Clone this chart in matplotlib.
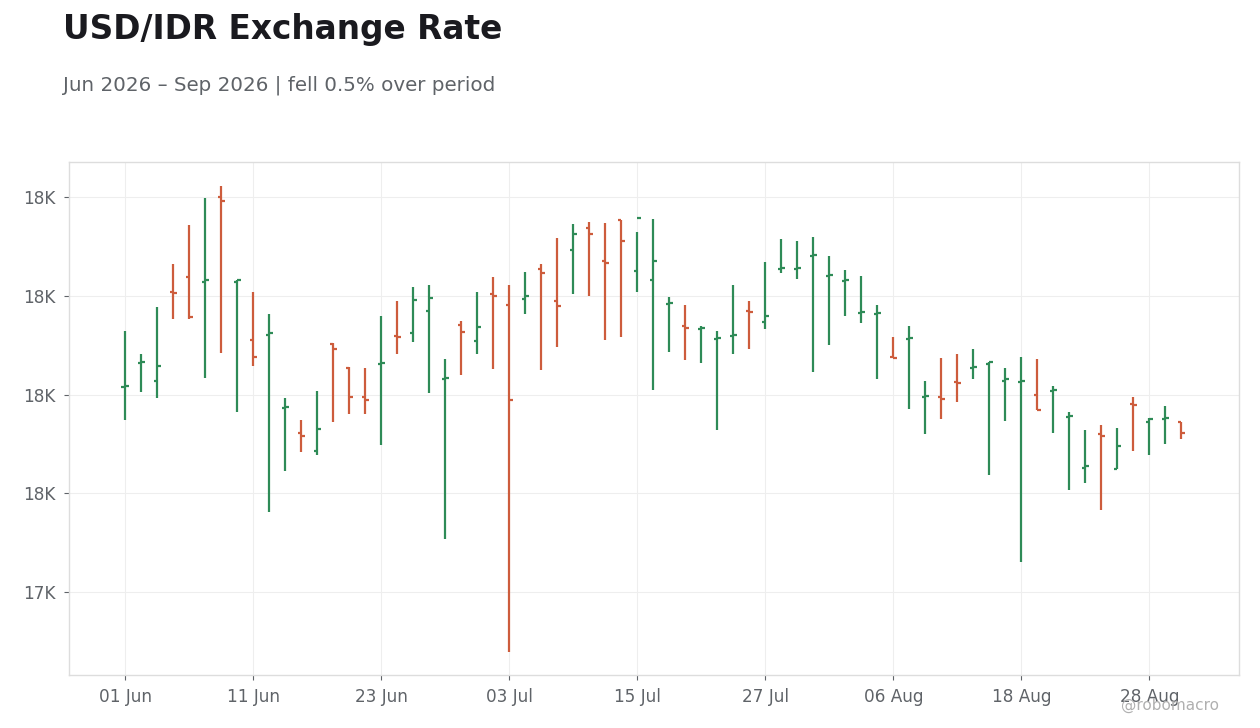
import pandas as pd
import matplotlib
matplotlib.use("Agg")
import matplotlib.pyplot as plt
from matplotlib.ticker import MultipleLocator, FuncFormatter

# daily OHLC, business days from 1 Jun 2026
dates = pd.bdate_range("2026-06-01", periods=67)

opens = [17815, 17863, 17827, 18008, 18038, 18028, 18201, 18028, 17910, 17921,
         17772, 17723, 17686, 17903, 17854, 17796, 17861, 17919, 17925, 17970,
         17831, 17941, 17909, 18004, 17982, 17994, 18055, 17990, 18093, 18138,
         18071, 18154, 18051, 18032, 17984, 17939, 17932, 17912, 17918, 17970,
         17947, 18054, 18054, 18080, 18040, 18029, 17965, 17963, 17876, 17912,
         17795, 17796, 17825, 17853, 17862, 17828, 17825, 17800, 17807, 17755,
         17652, 17721, 17650, 17781, 17745, 17750, 17744]
highs = [17929, 17882, 17977, 18064, 18143, 18198, 18222, 18033, 18008, 17963,
         17793, 17748, 17807, 17904, 17855, 17854, 17959, 17989, 18018, 18022,
         17872, 17949, 18008, 18038, 18022, 18048, 18064, 18117, 18145, 18149,
         18147, 18154, 18129, 18155, 17997, 17981, 17939, 17929, 18022, 17989,
         18068, 18115, 18111, 18119, 18080, 18052, 18040, 17981, 17916, 17939,
         17827, 17874, 17882, 17892, 17866, 17854, 17876, 17872, 17817, 17765,
         17728, 17738, 17732, 17795, 17752, 17777, 17744]
lows = [17749, 17806, 17793, 17954, 17954, 17834, 17885, 17765, 17858, 17563,
        17646, 17684, 17678, 17745, 17761, 17761, 17698, 17883, 17907, 17804,
        17507, 17840, 17883, 17852, 17279, 17963, 17850, 17897, 18004, 18000,
        17911, 17917, 18008, 17810, 17887, 17870, 17864, 17729, 17883, 17892,
        17933, 18047, 18035, 17846, 17901, 17960, 17945, 17832, 17874, 17771,
        17721, 17751, 17785, 17832, 17638, 17747, 17461, 17769, 17723, 17607,
        17621, 17567, 17650, 17686, 17678, 17700, 17710]
closes = [17818, 17866, 17858, 18006, 17958, 18031, 18192, 18032, 17876, 17924,
          17774, 17717, 17731, 17893, 17796, 17789, 17864, 17917, 17992, 17996,
          17833, 17927, 17937, 18000, 17789, 18000, 18047, 17980, 18126, 18126,
          18067, 18111, 18158, 18071, 17986, 17935, 17934, 17914, 17920, 17967,
          17960, 18056, 18056, 18082, 18042, 18031, 17967, 17965, 17874, 17914,
          17797, 17791, 17823, 17855, 17865, 17832, 17827, 17769, 17809, 17757,
          17656, 17717, 17696, 17779, 17751, 17752, 17723]

UP = "#2e8b57"
DOWN = "#cd5c3c"

x = list(range(len(dates)))
cols = [UP if c >= o else DOWN for o, c in zip(opens, closes)]

fig = plt.figure(figsize=(12.6, 7.28), dpi=100)
ax = fig.add_axes([69 / 1260, 1 - 675 / 728, 1170 / 1260, 513 / 728])

tw = 0.22
ax.vlines(x, lows, highs, colors=cols, linewidth=1.6, zorder=3)
ax.hlines(opens, [i - tw for i in x], x, colors=cols, linewidth=1.6, zorder=3)
ax.hlines(closes, x, [i + tw for i in x], colors=cols, linewidth=1.6, zorder=3)

ax.set_xlim(-3.5, 69.6)
ax.set_ylim(17232, 18271)

ax.yaxis.set_major_locator(MultipleLocator(200))
ax.yaxis.set_major_formatter(FuncFormatter(lambda v, p: f"{v / 1000:.0f}K"))
ticks = x[::8]
ax.set_xticks(ticks)
ax.set_xticklabels([dates[i].strftime("%d %b") for i in ticks])

ax.grid(True, color="#eeeeee", linewidth=0.8, zorder=0)
ax.set_axisbelow(True)
for s in ax.spines.values():
    s.set_color("#dddddd")
    s.set_linewidth(1.0)
ax.tick_params(axis="both", colors="#5f6368", labelsize=12.2, length=3.5, width=0.8, pad=6)

fig.text(63 / 1260, 1 - 29 / 728, "USD/IDR Exchange Rate", fontsize=23.6, fontweight="bold",
         color="#1a1a1f", ha="left", va="center")
fig.text(63 / 1260, 1 - 85 / 728, "Jun 2026 \u2013 Sep 2026 | fell 0.5% over period", fontsize=14.3,
         color="#5f6368", ha="left", va="center")
fig.text(1170 / 1260, 1 - 705 / 728, "@robomacro", fontsize=11, color="#b0b0b0",
         ha="center", va="center")

fig.savefig("out.png", dpi=100)
